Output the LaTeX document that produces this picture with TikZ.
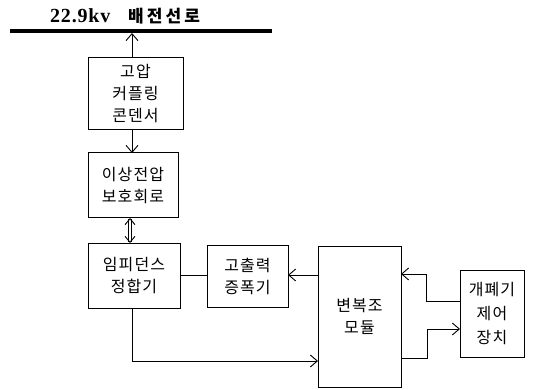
\documentclass[tikz,border=0pt]{standalone}
\usepackage{fontspec}
\setmainfont{Liberation Serif}
\newfontfamily\kr{Noto Sans CJK KR}[LetterSpace=7]
\newfontfamily\krb{Noto Sans CJK KR}[LetterSpace=18]
\usetikzlibrary{arrows.meta}
\begin{document}
\begin{tikzpicture}[x=1pt,y=-1pt,
  box/.style={draw, line width=1pt, inner sep=0pt, outer sep=0pt, align=center,
    font=\kr\fontsize{16}{22}\selectfont},
  conn/.style={line width=0.9pt},
  arr/.style={conn, -{Straight Barb[length=7pt,width=12pt]}}]
\useasboundingbox (0,0) rectangle (538,390);
% bus
\coordinate (busL) at (10,31);
\coordinate (busR) at (272,31);
\coordinate (busB) at (132,33);
\draw[line width=4pt] (busL) -- (busR);
\node[anchor=base west, inner sep=0pt, font=\bfseries\fontsize{20}{22}\selectfont\addfontfeatures{LetterSpace=4}] (t1) at (50,23) {22.9kv};
\node[anchor=base west, inner sep=0pt, font=\krb\bfseries\fontsize{17}{20}\selectfont] (t2) at (128,23) {배전선로};
% boxes
\node[box, minimum width=95pt, minimum height=72pt] (cc) at (135.5,94) {고압\\커플링\\콘덴서};
\node[box, minimum width=90pt, minimum height=65pt] (pr) at (133,185.5) {이상전압\\보호회로};
\node[box, minimum width=92pt, minimum height=65pt] (im) at (134,275.5) {임피던스\\정합기};
\node[box, minimum width=81pt, minimum height=62pt] (amp) at (247.5,276) {고출력\\증폭기};
\node[box, minimum width=83pt, minimum height=141pt] (mod) at (359.5,316.5) {변복조\\모듈};
\node[box, minimum width=64pt, minimum height=87pt, font=\kr\fontsize{16}{24}\selectfont] (ctl) at (492,313.5) {개폐기\\제어\\장치};
\coordinate (xs) at (132,0);
\coordinate (xd) at (130,0);
% connectors
\draw[arr] (cc.north -| xs) -- (busB);
\draw[arr] (cc.south -| xs) -- (pr.north -| xs);
\draw[conn, double, double distance=2.2pt, {Straight Barb[length=6pt,width=10pt]}-{Straight Barb[length=6pt,width=10pt]}] (pr.south -| xd) -- (im.north -| xd);
\coordinate (ya) at (0,275);
\draw[arr] (mod.west |- ya) -- (amp.east |- ya);
\draw[conn] (amp.west |- ya) -- (im.east |- ya);
\coordinate (yb) at (0,361);
\draw[arr] (im.south -| xs) -- (xs |- yb) -- (mod.west |- yb);
\coordinate (c1) at (426,301);
\coordinate (c2) at (426,274);
\draw[arr] (ctl.west |- c1) -- (c1) -- (c2) -- (mod.east |- c2);
\coordinate (c3) at (427,358);
\coordinate (c4) at (427,329);
\draw[arr] (mod.east |- c3) -- (c3) -- (c4) -- (ctl.west |- c4);
\end{tikzpicture}
\end{document}
